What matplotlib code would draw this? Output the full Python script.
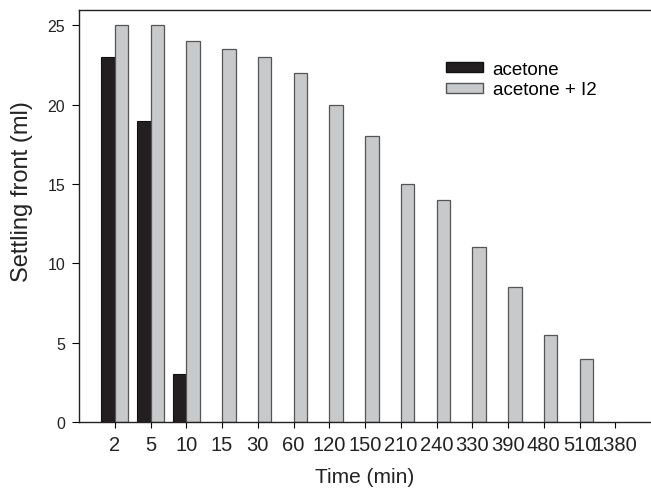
import numpy as np
import matplotlib.pyplot as plt
from matplotlib.patches import Patch

plt.rcParams['font.family'] = ['Liberation Sans', 'DejaVu Sans']

times = ['2', '5', '10', '15', '30', '60', '120', '150', '210', '240', '330', '390', '480', '510', '1380']
acetone = [23, 19, 3, 0, 0, 0, 0, 0, 0, 0, 0, 0, 0, 0, 0]
acetone_i2 = [25, 25, 24, 23.5, 23, 22, 20, 18, 15, 14, 11, 8.5, 5.5, 4, 0]

dark = '#231f20'
grey = '#c8c9cb'

fig = plt.figure(figsize=(6.51, 4.89), dpi=100)
ax = fig.add_axes([79/651, 66/489, 572/651, 412.5/489])

x = np.arange(len(times))
w = 0.38
a = np.array(acetone, dtype=float)
b = np.array(acetone_i2, dtype=float)
# zero-height bars are not drawn
ma = a > 0
mb = b > 0
ax.bar(x[ma] - w, a[ma], w, align='edge', color=dark, edgecolor='#111111', linewidth=0.8)
ax.bar(x[mb], b[mb], w, align='edge', color=grey, edgecolor='#555555', linewidth=0.9)

ax.legend(handles=[Patch(facecolor=dark, edgecolor='#111111', label='acetone'),
                   Patch(facecolor=grey, edgecolor='#555555', label='acetone + I2')],
          loc='upper left', bbox_to_anchor=(0.628, 0.894), frameon=False, fontsize=13.5,
          handlelength=2.0, handleheight=0.45, handletextpad=0.5, labelspacing=0.2,
          borderaxespad=0)

ax.set_xlim(-1, 15)
ax.set_ylim(0, 26)
ax.set_xticks(x)
ax.set_xticklabels(times, fontsize=14.5, color='#222222')
ax.set_yticks([0, 5, 10, 15, 20, 25])
ax.set_yticklabels(['0', '5', '10', '15', '20', '25'], fontsize=11.5, color='#222222')
ax.tick_params(axis='y', length=5, width=0.8, direction='out', pad=5)
ax.tick_params(axis='x', length=4.5, width=0.8, direction='out', pad=5)
ax.set_xlabel('Time (min)', fontsize=15, labelpad=9, color='#222222')
ax.set_ylabel('Settling front (ml)', fontsize=17, color='#222222')
ax.yaxis.set_label_coords(-0.0804, 0.56)
for s in ax.spines.values():
    s.set_linewidth(1.0)
    s.set_color('#222222')
ax.spines['right'].set_visible(False)

fig.savefig('out.png', dpi=100)
